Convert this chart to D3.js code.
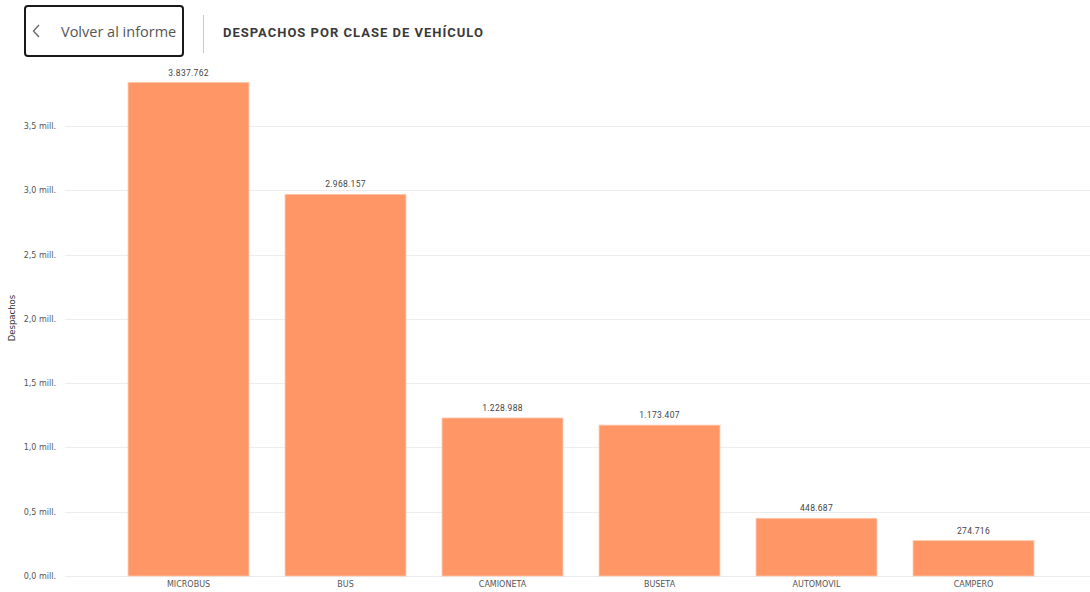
<!DOCTYPE html>
<html>
<head>
<meta charset="utf-8">
<script src="https://cdn.jsdelivr.net/npm/d3@7"></script>
<style>
  html, body { margin: 0; padding: 0; background: #fff; }
  svg { display: block; }
</style>
</head>
<body>
<svg id="chart" width="1090" height="592"></svg>
<script>
// Despachos por clase de vehículo
const categories = ["MICROBUS", "BUS", "CAMIONETA", "BUSETA", "AUTOMOVIL", "CAMPERO"];
const despachos = [3837762, 2968157, 1228988, 1173407, 448687, 274716];
const yTicks = [0, 500000, 1000000, 1500000, 2000000, 2500000, 3000000, 3500000];
const yTickLabels = ["0,0 mill.", "0,5 mill.", "1,0 mill.", "1,5 mill.", "2,0 mill.", "2,5 mill.", "3,0 mill.", "3,5 mill."];

const svg = d3.select("#chart");
const W = 1090, H = 592;

// header: back button, separator and title
const header = svg.append("g");
header.append("rect")
  .attr("x", 25).attr("y", 6).attr("width", 158).attr("height", 50)
  .attr("rx", 3).attr("ry", 3)
  .attr("fill", "#fff").attr("stroke", "#1a1a1a").attr("stroke-width", 2);
header.append("path")
  .attr("d", "M39,25 L33.5,31 L39,37")
  .attr("fill", "none").attr("stroke", "#666").attr("stroke-width", 1.3);
header.append("text")
  .attr("x", 61).attr("y", 37)
  .attr("font-family", "'Open Sans', 'DejaVu Sans', sans-serif")
  .attr("font-size", 14.5).attr("fill", "#555")
  .text("Volver al informe");
header.append("line")
  .attr("x1", 203.5).attr("x2", 203.5).attr("y1", 15).attr("y2", 53)
  .attr("stroke", "#c8c8c8").attr("stroke-width", 1);
header.append("text")
  .attr("x", 223).attr("y", 36.5)
  .attr("font-family", "Roboto, 'DejaVu Sans', sans-serif")
  .attr("font-weight", 700)
  .attr("font-size", 13).attr("fill", "#3a3a3a")
  .attr("letter-spacing", 1.0)
  .text("DESPACHOS POR CLASE DE VEHÍCULO");

// scales
const x = d3.scaleBand()
  .domain(categories)
  .range([110, 1052])
  .paddingInner(0.23)
  .paddingOuter(0.115);

const y = d3.scaleLinear()
  .domain([0, 3500000])
  .range([576, 126]);

// horizontal gridlines
svg.append("g")
  .selectAll("line")
  .data(yTicks)
  .join("line")
  .attr("x1", 65).attr("x2", W)
  .attr("y1", d => Math.round(y(d)) + 0.5)
  .attr("y2", d => Math.round(y(d)) + 0.5)
  .attr("stroke", "#ececec").attr("stroke-width", 1);

// y axis labels
const yAxis = d3.axisLeft(y)
  .tickValues(yTicks)
  .tickFormat((d, i) => yTickLabels[i])
  .tickSize(0)
  .tickPadding(0);
const yg = svg.append("g")
  .attr("transform", "translate(56,0)")
  .call(yAxis);
yg.select(".domain").remove();
yg.selectAll("text")
  .attr("font-family", "'DejaVu Sans', sans-serif")
  .attr("font-size", 8)
  .attr("fill", "#555");

// y axis title
svg.append("text")
  .attr("transform", "translate(15,318) rotate(-90)")
  .attr("text-anchor", "middle")
  .attr("font-family", "'DejaVu Sans', sans-serif")
  .attr("font-size", 8.5)
  .attr("fill", "#333")
  .text("Despachos");

// bars
svg.append("g")
  .selectAll("rect")
  .data(despachos)
  .join("rect")
  .attr("x", (d, i) => x(categories[i]))
  .attr("y", d => y(d))
  .attr("width", x.bandwidth())
  .attr("height", d => y(0) - y(d))
  .attr("fill", "#fe9666")
  .attr("stroke", "#ffc7ad")
  .attr("stroke-width", 0.8);

// value labels
const fmt = d3.formatLocale({ decimal: ",", thousands: ".", grouping: [3], currency: ["", ""] }).format(",d");
svg.append("g")
  .selectAll("text")
  .data(despachos)
  .join("text")
  .attr("x", (d, i) => x(categories[i]) + x.bandwidth() / 2)
  .attr("y", d => y(d) - 7)
  .attr("text-anchor", "middle")
  .attr("font-family", "Roboto, 'DejaVu Sans', sans-serif")
  .attr("font-size", 8.5)
  .attr("fill", "#444")
  .attr("letter-spacing", 0.3)
  .text(d => fmt(d));

// x axis labels
const xAxis = d3.axisBottom(x).tickSize(0).tickPadding(0);
const xg = svg.append("g")
  .attr("transform", "translate(0,581)")
  .call(xAxis);
xg.select(".domain").remove();
xg.selectAll("text")
  .attr("font-family", "'DejaVu Sans', sans-serif")
  .attr("font-size", 8)
  .attr("fill", "#555");
</script>
</body>
</html>
